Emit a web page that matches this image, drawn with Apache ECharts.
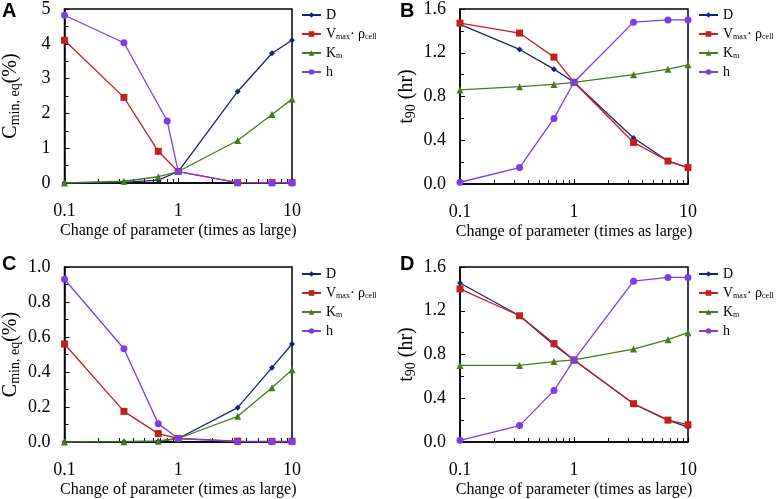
<!DOCTYPE html>
<html><head><meta charset="utf-8">
<script src="https://cdn.jsdelivr.net/npm/echarts@6/dist/echarts.min.js"></script>
<style>html,body{margin:0;padding:0;background:#fff}#c{width:777px;height:499px}</style>
</head><body><div id="c"></div>
<script>
// ---- data ----
const xs = [0.1, 0.333, 0.667, 1, 3.33, 6.67, 10];
const xsAh = [0.1, 0.333, 0.8, 1, 3.33, 6.67, 10];
const seriesNames = ['D', 'V', 'K', 'h'];
const panelLetters = ['A', 'B', 'C', 'D'];
const xAxisTitle = 'Change of parameter (times as large)';

// Panel A: C_min,eq (%)
const aD = [0, 0.02, 0.08, 0.33, 2.63, 3.73, 4.1];
const aV = [4.1, 2.46, 0.91, 0.33, 0.01, 0.01, 0.01];
const aK = [0, 0.05, 0.18, 0.33, 1.22, 1.97, 2.41];
const aH = [4.82, 4.03, 1.78, 0.33, 0.01, 0, 0];
// Panel B: t90 (hr)
const bD = [1.46, 1.23, 1.05, 0.93, 0.42, 0.21, 0.15];
const bV = [1.47, 1.38, 1.16, 0.93, 0.38, 0.21, 0.15];
const bK = [0.86, 0.89, 0.91, 0.93, 1.0, 1.05, 1.09];
const bH = [0.016, 0.15, 0.60, 0.93, 1.48, 1.50, 1.50];
// Panel C: C_min,eq (%)
const cD = [0, 0.002, 0.005, 0.02, 0.196, 0.425, 0.56];
const cV = [0.56, 0.175, 0.048, 0.02, 0.005, 0.004, 0.004];
const cK = [0, 0.002, 0.005, 0.02, 0.147, 0.31, 0.413];
const cH = [0.93, 0.533, 0.105, 0.02, 0.002, 0.001, 0.001];
// Panel D: t90 (hr)
const dD = [1.454, 1.154, 0.886, 0.75, 0.349, 0.2, 0.137];
const dV = [1.40, 1.154, 0.90, 0.75, 0.35, 0.2, 0.158];
const dK = [0.70, 0.70, 0.735, 0.75, 0.85, 0.935, 1.0];
const dH = [0.015, 0.15, 0.47, 0.75, 1.47, 1.505, 1.505];

const yMax = [5, 1.6, 1.0, 1.6];
const yInterval = [1, 0.4, 0.2, 0.4];

// ---- styling ----
const serif = 'Liberation Serif';
const colors = {D: '#17227a', V: '#c31f1c', K: '#4a7a1e', h: '#7b3ee6'};
const symbols = {D: 'diamond', V: 'rect', K: 'triangle', h: 'circle'};
const symSize = {D: 6, V: 7, K: 7, h: 7};

const grids = [
  {left: 63, top: 7, width: 229, height: 176},
  {left: 460, top: 7, width: 228, height: 177},
  {left: 63, top: 267, width: 229, height: 175},
  {left: 460, top: 267, width: 228, height: 175}
];

const pair = (xv, yv) => xv.map((x, i) => [x, yv[i]]);
const panels = [
  {D: pair(xs, aD), V: pair(xs, aV), K: pair(xs, aK), h: pair(xsAh, aH)},
  {D: pair(xs, bD), V: pair(xs, bV), K: pair(xs, bK), h: pair(xs, bH)},
  {D: pair(xs, cD), V: pair(xs, cV), K: pair(xs, cK), h: pair(xs, cH)},
  {D: pair(xs, dD), V: pair(xs, dV), K: pair(xs, dK), h: pair(xs, dH)}
];

const yNames = [
  '{a|C}{s|min, eq}{a|(%)}',
  '{a|t}{s|90}{a| (hr)}',
  '{a|C}{s|min, eq}{a|(%)}',
  '{a|t}{s|90}{a| (hr)}'
];

const xAxis = grids.map((g, i) => ({
  type: 'log', logBase: 10, gridIndex: i, min: 0.1, max: 10,
  name: xAxisTitle, nameLocation: 'middle', nameGap: 40,
  nameTextStyle: {fontFamily: serif, fontSize: 16, color: '#000'},
  axisLine: {lineStyle: {color: '#000', width: 1.5}},
  axisTick: {inside: true, length: 5, lineStyle: {color: '#000', width: 1}},
  minorTick: {show: true, splitNumber: 9, length: 4, lineStyle: {color: '#000', width: 1}},
  axisLabel: {fontFamily: serif, fontSize: 18, color: '#000', margin: 19,
    formatter: v => String(+(+v).toPrecision(3))},
  splitLine: {show: false}, minorSplitLine: {show: false}
}));

const yAxis = grids.map((g, i) => ({
  type: 'value', gridIndex: i, min: 0, max: yMax[i], interval: yInterval[i],
  name: yNames[i], nameLocation: 'middle', nameGap: 42, nameRotate: 90,
  nameTextStyle: {rich: {
    a: {fontFamily: serif, fontSize: 20, color: '#000'},
    s: {fontFamily: serif, fontSize: 14, color: '#000', padding: [9, 0, 0, 0]}
  }},
  axisLine: {show: true, lineStyle: {color: '#000', width: 1.5}},
  axisTick: {show: true, inside: true, length: 5, lineStyle: {color: '#000', width: 1}},
  minorTick: {show: true, splitNumber: 2, length: 4, lineStyle: {color: '#000', width: 1}},
  axisLabel: {fontFamily: serif, fontSize: 18, color: '#000', margin: 14,
    formatter: v => i === 0 ? String(Math.round(v)) : (+v).toFixed(1)},
  splitLine: {show: false}, minorSplitLine: {show: false}
}));

const series = [];
panels.forEach((p, i) => {
  seriesNames.forEach(n => {
    series.push({
      type: 'line', name: n, xAxisIndex: i, yAxisIndex: i,
      data: p[n], symbol: symbols[n], symbolSize: symSize[n],
      showAllSymbol: true,
      lineStyle: {color: colors[n], width: 1.3},
      itemStyle: {color: colors[n]},
      animation: false
    });
  });
});

const legendLabel = {
  D: '{a|D}',
  V: '{a|V}{s|max}{a|· ρ}{s|cell}',
  K: '{a|K}{s|m}',
  h: '{a|h}'
};
const legendPos = [
  {left: 301, top: 8}, {left: 698, top: 8}, {left: 301, top: 267}, {left: 698, top: 267}
];
const legend = legendPos.map(pos => ({
  orient: 'vertical', left: pos.left, top: pos.top,
  itemWidth: 19, itemHeight: 7, itemGap: 5, padding: 0,
  data: seriesNames, selectedMode: false,
  formatter: n => legendLabel[n],
  textStyle: {overflow: 'none', rich: {
    a: {fontFamily: serif, fontSize: 14, color: '#000', height: 15},
    s: {fontFamily: serif, fontSize: 8, color: '#000', padding: [6, 0, 0, 0]}
  }}
}));

const letterPos = [[2, 1], [400, 1], [2, 254], [400, 254]];
const graphic = panelLetters.map((t, i) => ({
  type: 'text', left: letterPos[i][0], top: letterPos[i][1],
  style: {text: t, fontFamily: 'Liberation Sans', fontWeight: 'bold', fontSize: 20, fill: '#000'}
}));

const chart = echarts.init(document.getElementById('c'), null, {renderer: 'canvas'});
chart.setOption({
  animation: false,
  backgroundColor: '#fff',
  grid: grids.map(g => Object.assign({show: true, borderColor: '#000', borderWidth: 1.5, backgroundColor: 'transparent'}, g)),
  xAxis, yAxis, series, legend, graphic
});
</script></body></html>
